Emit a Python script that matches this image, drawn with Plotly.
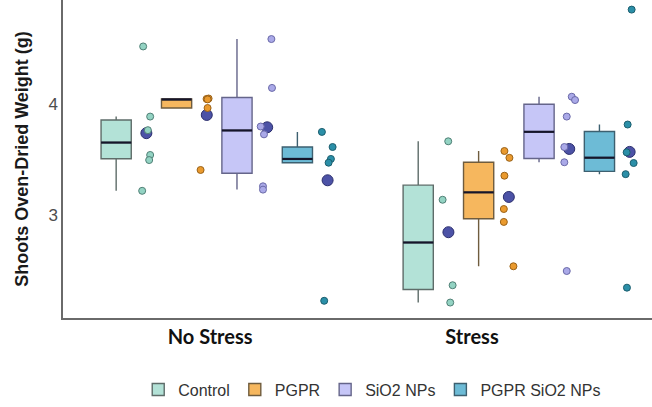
import numpy as np
import plotly.graph_objects as go

# ---------------- data ----------------
GROUPS = ["No Stress", "Stress"]
TREATMENTS = ["Control", "PGPR", "SiO2 NPs", "PGPR SiO2 NPs"]
Y_TICKS = [3, 4]

NS_CONTROL = [4.525, 3.889, 3.766, 3.541, 3.495, 3.216]
NS_PGPR = [4.053, 4.049, 4.045, 3.967, 3.405]
NS_SIO2 = [4.592, 4.149, 3.799, 3.728, 3.257, 3.227]
NS_PGPR_SIO2 = [3.750, 3.613, 3.505, 3.471, 2.219]

S_CONTROL = [3.665, 3.135, 2.360, 2.203]
S_PGPR = [3.577, 3.515, 3.353, 3.051, 2.934, 2.532]
S_SIO2 = [4.069, 4.039, 3.889, 3.613, 3.475, 2.489]
S_PGPR_SIO2 = [4.859, 3.817, 3.565, 3.468, 3.367, 2.338]

DATA = {
    "No Stress": [NS_CONTROL, NS_PGPR, NS_SIO2, NS_PGPR_SIO2],
    "Stress": [S_CONTROL, S_PGPR, S_SIO2, S_PGPR_SIO2],
}

# ---------------- layout / style ----------------
PX_PER_UNIT = 302.0
# horizontal jitter of the dots (pixels right of the box centre)
JITTER_PX = {
    "No Stress": [[27, 34, 31.7, 34, 33, 26], [32, 30, 31, 31, 24],
                  [34.4, 35, 23.7, 27, 26, 26], [24.5, 35.2, 33.5, 31.2, 26.8]],
    "Stress": [[30, 24.4, 34.4, 32], [25.8, 30.8, 25.8, 25.2, 25.2, 34.8],
               [32.7, 36, 27.7, 25.3, 25.3, 27.7], [32.2, 28.2, 27.2, 34.2, 26.2, 27.5]],
}
BOX_FILL = ["#b3e2d7", "#f6b75e", "#c6c6f7", "#6dbbd6"]
BOX_LINE = ["#5e6c69", "#6f5c3e", "#65658a", "#3d6070"]
DOT_FILL = ["#93d3c3", "#ea9a2e", "#aaa9e8", "#2b8fa8"]
DOT_LINE = ["#4f7f75", "#9a6218", "#6a69a8", "#1c5e6e"]
MEAN_FILL = "#4c52a6"
MEAN_LINE = "#2c2f6e"
GROUP_POS = {"No Stress": 1.0, "Stress": 2.0}
OFFSETS = [-0.3, -0.1, 0.1, 0.3]
BOX_W = 0.1
DOT_SHIFT = 0.1
TICK_POS = [1.011, 1.878]
SANS = "Liberation Sans"

fig = go.Figure()

# boxes
for g in GROUPS:
    for i, t in enumerate(TREATMENTS):
        vals = np.array(DATA[g][i], dtype=float)
        q1, med, q3 = np.percentile(vals, [25, 50, 75])
        iqr = q3 - q1
        uf = vals[vals <= q3 + 1.5 * iqr].max()
        lf = vals[vals >= q1 - 1.5 * iqr].min()
        pos = GROUP_POS[g] + OFFSETS[i]
        fig.add_trace(go.Box(
            x=[pos], q1=[q1], median=[med], q3=[q3], lowerfence=[lf], upperfence=[uf],
            width=BOX_W, boxpoints=False, whiskerwidth=0,
            fillcolor=BOX_FILL[i], line=dict(color=BOX_LINE[i], width=1.4),
            name=t, legendgroup=t, showlegend=(g == "No Stress"),
            hoverinfo="skip",
        ))
        # thick dark median
        fig.add_trace(go.Scatter(
            x=[pos - BOX_W / 2, pos + BOX_W / 2], y=[med, med], mode="lines",
            line=dict(color="#15152a", width=2.2), showlegend=False,
            legendgroup=t, hoverinfo="skip",
        ))

# mean markers
for g in GROUPS:
    for i, t in enumerate(TREATMENTS):
        vals = np.array(DATA[g][i], dtype=float)
        pos = GROUP_POS[g] + OFFSETS[i] + DOT_SHIFT
        fig.add_trace(go.Scatter(
            x=[pos], y=[vals.mean()], mode="markers",
            marker=dict(size=11, color=MEAN_FILL, line=dict(color=MEAN_LINE, width=1)),
            showlegend=False, legendgroup=t, hoverinfo="skip",
        ))

# jittered points
for g in GROUPS:
    for i, t in enumerate(TREATMENTS):
        vals = DATA[g][i]
        base = GROUP_POS[g] + OFFSETS[i]
        xs = [base + j / PX_PER_UNIT for j in JITTER_PX[g][i]]
        fig.add_trace(go.Scatter(
            x=xs, y=vals, mode="markers",
            marker=dict(size=7, color=DOT_FILL[i], line=dict(color=DOT_LINE[i], width=1)),
            showlegend=False, legendgroup=t, hoverinfo="skip",
        ))

fig.update_layout(
    width=652, height=407,
    margin=dict(l=63, r=0, t=0, b=87),
    paper_bgcolor="white", plot_bgcolor="white",
    boxmode="overlay",
    font=dict(family=SANS, color="#333333"),
    legend=dict(
        orientation="h", x=0.525, xanchor="center", y=-0.225, yanchor="middle",
        font=dict(family=SANS, size=16, color="#333333"), traceorder="normal",
        itemwidth=30, bgcolor="rgba(0,0,0,0)",
    ),
    showlegend=True,
)
fig.update_xaxes(
    range=[0.524, 2.474], tickmode="array", tickvals=TICK_POS,
    ticktext=["<b>%s</b>" % g for g in GROUPS],
    tickfont=dict(family="Lato", size=20, color="#111111"),
    showline=True, linecolor="#6a6a6a", linewidth=1.5, showgrid=False, zeroline=False,
    ticks="", ticklen=0,
)
fig.update_yaxes(
    range=[2.063, 4.946], tickmode="array", tickvals=Y_TICKS,
    ticktext=[str(v) for v in Y_TICKS],
    tickfont=dict(family=SANS, size=17, color="#4d4d4d"),
    showline=True, linecolor="#6a6a6a", linewidth=1.5, showgrid=False, zeroline=False,
    ticks="", ticklen=0,
    title=dict(text="<b>Shoots Oven-Dried Weight (g)</b>",
               font=dict(family=SANS, size=18, color="#1a1a1a"), standoff=15),
)

fig.write_html("out.html")
